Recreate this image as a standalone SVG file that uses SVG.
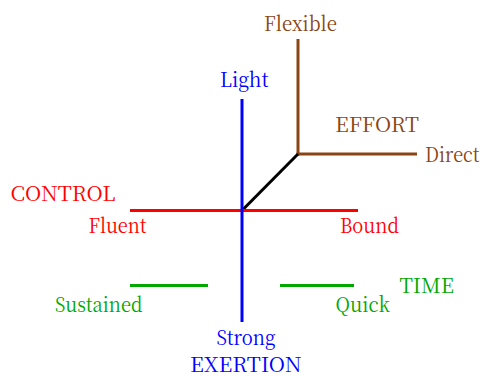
<svg xmlns="http://www.w3.org/2000/svg" width="482" height="376" viewBox="0 0 482 376">
  <style>
    .lbl { font-family: "Noto Serif CJK SC", "Noto Serif", "DejaVu Serif", serif; font-size: 20.5px; }
    .axis { fill: none; stroke-width: 3; stroke-linecap: butt; }
    .brown { fill: #8b4513; } .brownS { stroke: #8b4513; }
    .blue { fill: #0000ff; } .blueS { stroke: #0000ff; }
    .red { fill: #ff0000; } .redS { stroke: #ff0000; }
    .green { fill: #00a800; } .greenS { stroke: #00a800; }
  </style>
  <rect width="482" height="376" fill="#ffffff"/>

  <!-- axis lines -->
  <g id="connectors">
    <line class="axis brownS" x1="298" y1="39" x2="298" y2="155.5"/>
    <line class="axis brownS" x1="296.5" y1="154" x2="417" y2="154"/>
    <line class="axis" stroke="#000000" x1="298" y1="154" x2="242" y2="210.5"/>
    <line class="axis redS" x1="130" y1="210.5" x2="358" y2="210.5"/>
    <line class="axis blueS" x1="242" y1="99" x2="242" y2="322"/>
    <line class="axis greenS" x1="130" y1="285.5" x2="208" y2="285.5"/>
    <line class="axis greenS" x1="280" y1="285.5" x2="354" y2="285.5"/>
  </g>

  <!-- EFFORT -->
  <g id="effort">
    <text class="lbl brown" x="264" y="31" textLength="73" lengthAdjust="spacingAndGlyphs">Flexible</text>
    <text class="lbl brown" x="335" y="132" textLength="84" lengthAdjust="spacingAndGlyphs">EFFORT</text>
    <text class="lbl brown" x="425" y="162" textLength="54.5" lengthAdjust="spacingAndGlyphs">Direct</text>
  </g>

  <!-- EXERTION -->
  <g id="exertion">
    <text class="lbl blue" x="220" y="87" textLength="48.5" lengthAdjust="spacingAndGlyphs">Light</text>
    <text class="lbl blue" x="216.5" y="345" textLength="59" lengthAdjust="spacingAndGlyphs">Strong</text>
    <text class="lbl blue" x="190" y="371.5" textLength="111.5" lengthAdjust="spacingAndGlyphs">EXERTION</text>
  </g>

  <!-- CONTROL -->
  <g id="control">
    <text class="lbl red" x="10.5" y="200.5" textLength="105" lengthAdjust="spacingAndGlyphs">CONTROL</text>
    <text class="lbl red" x="88.5" y="233" textLength="58" lengthAdjust="spacingAndGlyphs">Fluent</text>
    <text class="lbl red" x="340" y="233" textLength="59" lengthAdjust="spacingAndGlyphs">Bound</text>
  </g>

  <!-- TIME -->
  <g id="time">
    <text class="lbl green" x="399.5" y="292.5" textLength="54.5" lengthAdjust="spacingAndGlyphs">TIME</text>
    <text class="lbl green" x="55" y="312" textLength="87.5" lengthAdjust="spacingAndGlyphs">Sustained</text>
    <text class="lbl green" x="335.5" y="312" textLength="54.5" lengthAdjust="spacingAndGlyphs">Quick</text>
  </g>
</svg>
